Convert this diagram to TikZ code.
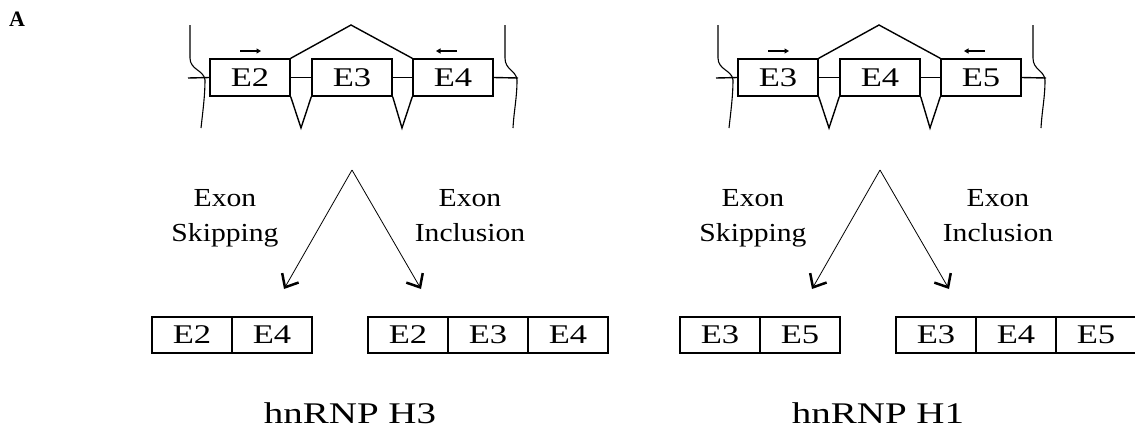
\documentclass[tikz,border=0pt]{standalone}
\usepackage{fontspec}
\setmainfont{Liberation Serif}
\newfontfamily\lblfont[FakeStretch=1.14]{Liberation Serif}
\newfontfamily\boxfont[FakeStretch=1.28]{Liberation Serif}
\newfontfamily\ttlfont[FakeStretch=1.3]{Liberation Serif}
\newfontfamily\panelfont{Liberation Serif Bold}
\usetikzlibrary{arrows.meta}
\tikzset{
  gline/.style={line width=1.4pt},
  topexon/.style={draw, line width=1.4pt, minimum width=80pt, minimum height=37pt, inner sep=0pt, font=\boxfont\fontsize{27}{30}\selectfont},
  botexon/.style={draw, line width=1.5pt, minimum width=80pt, minimum height=36pt, inner sep=0pt, font=\boxfont\fontsize{27}{30}\selectfont},
  smallarr/.style={line width=1.3pt, -{Triangle[length=4.5pt,width=5pt]}},
  bigarr/.style={line width=0.8pt, -{Straight Barb[length=11pt,width=19pt,line width=2.5pt]}},
  lbl/.style={anchor=base, inner sep=0pt, font=\lblfont\fontsize{26}{30}\selectfont},
  ttl/.style={anchor=base, inner sep=0pt, font=\ttlfont\fontsize{30}{36}\selectfont},
}
\newcommand\genepanel[5]{%
  \node[topexon] (#1a) at (250,77.5) {#2};
  \node[topexon] (#1b) at (352,77.5) {#3};
  \node[topexon] (#1c) at (453,77.5) {#4};
  \coordinate (#1lin) at (188,78);
  \coordinate (#1rin) at (518,78);
  \draw[gline] (#1lin) -- (#1a.west);
  \draw[gline] (#1a.east) -- (#1b.west);
  \draw[gline] (#1b.east) -- (#1c.west);
  \draw[gline] (#1c.east) -- (#1rin);
  \coordinate (#1peak) at (351,25);
  \draw[gline] (#1a.north east) -- (#1peak) -- (#1c.north west);
  \coordinate (#1vone) at (301,128);
  \coordinate (#1vtwo) at (402,128);
  \draw[gline] (#1a.south east) -- (#1vone) -- (#1b.south west);
  \draw[gline] (#1b.south east) -- (#1vtwo) -- (#1c.south west);
  \draw[line width=1.1pt] (190,25) -- (190,58) .. controls (190,70) and (204,70) .. (205,80) .. controls (205,95) and (203,110) .. (201,128);
  \draw[line width=1.1pt] (505,25) -- (505,58) .. controls (505,70) and (516,70) .. (517,80) .. controls (517,98) and (514,110) .. (513,128);
  \coordinate (#1fa) at (240,51); \coordinate (#1fb) at (261,51);
  \coordinate (#1ra) at (457,51); \coordinate (#1rb) at (436,51);
  \draw[smallarr] (#1fa) -- (#1fb);
  \draw[smallarr] (#1ra) -- (#1rb);
  \coordinate (#1apex) at (352,170);
  \coordinate (#1skip) at (284,289);
  \coordinate (#1inc) at (421,289);
  \draw[bigarr] (#1apex) -- (#1skip);
  \draw[bigarr] (#1apex) -- (#1inc);
  \node[lbl] (#1sa) at (225,206) {Exon};
  \node[lbl] (#1sb) at (225,241) {Skipping};
  \node[lbl] (#1ia) at (470,206) {Exon};
  \node[lbl] (#1ib) at (470,241) {Inclusion};
  \node[botexon] (#1pa) at (192,335) {#2};
  \node[botexon] (#1pb) at (272,335) {#4};
  \node[botexon] (#1qa) at (408,335) {#2};
  \node[botexon] (#1qb) at (488,335) {#3};
  \node[botexon] (#1qc) at (568,335) {#4};
  \node[ttl] (#1t) at (350,423) {#5};
}
\begin{document}
\begin{tikzpicture}[x=1pt,y=-1pt]
\useasboundingbox (0,0) rectangle (1135,440);
\node[anchor=base west, inner sep=0pt] (lab) at (9,26) {\panelfont\fontsize{22}{26}\selectfont A};
\genepanel{L}{E2}{E3}{E4}{hnRNP H3}
\begin{scope}[xshift=528pt]
\genepanel{R}{E3}{E4}{E5}{hnRNP H1}
\end{scope}
\end{tikzpicture}
\end{document}
